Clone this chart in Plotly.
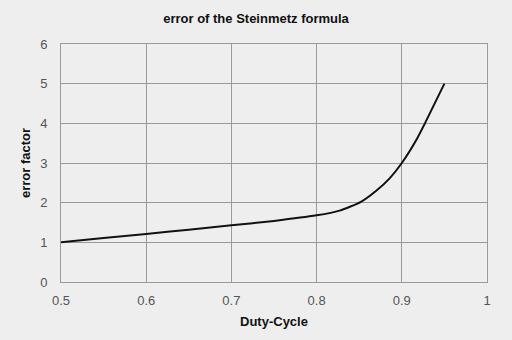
import plotly.graph_objects as go

duty_cycle = [0.5, 0.55, 0.6, 0.65, 0.7, 0.75, 0.8, 0.827, 0.852, 0.87, 0.886, 0.9, 0.918, 0.929, 0.95]
error_factor = [1.0, 1.11, 1.21, 1.32, 1.43, 1.54, 1.68, 1.8, 2.02, 2.3, 2.62, 3.0, 3.62, 4.08, 5.0]

x_ticks = [0.5, 0.6, 0.7, 0.8, 0.9, 1.0]
x_labels = ["0.5", "0.6", "0.7", "0.8", "0.9", "1"]
y_ticks = [0, 1, 2, 3, 4, 5, 6]

bg = "#eeeeee"
grid = "#9a9a9a"
narrow = "Liberation Sans Narrow, Arial Narrow, Liberation Sans, sans-serif"
tickfont = dict(family="Liberation Sans, Arial, sans-serif", size=13, color="#555555")

fig = go.Figure()
fig.add_trace(go.Scatter(
    x=duty_cycle, y=error_factor, mode="lines",
    line=dict(color="#111111", width=2, shape="spline", smoothing=0.6),
    showlegend=False, hoverinfo="skip",
))

fig.update_layout(
    width=512, height=340,
    margin=dict(l=61, r=25, t=44, b=58),
    paper_bgcolor=bg, plot_bgcolor=bg,
    title=dict(text="<b>error of the Steinmetz formula</b>", x=0.5, xanchor="center",
               y=1 - 18 / 340, yanchor="middle",
               font=dict(family=narrow, size=13, color="#111111")),
    xaxis=dict(range=[0.5, 1.0], tickvals=x_ticks, ticktext=x_labels,
               showgrid=True, gridcolor=grid, gridwidth=1,
               showline=True, linecolor=grid, linewidth=1, mirror=True,
               zeroline=False, ticks="", tickfont=tickfont, ticklabelstandoff=6,
               title=dict(text="<b>Duty-Cycle</b>", standoff=10,
                          font=dict(family=narrow, size=13, color="#111111"))),
    yaxis=dict(range=[0, 6], tickvals=y_ticks,
               showgrid=True, gridcolor=grid, gridwidth=1,
               showline=True, linecolor=grid, linewidth=1, mirror=True,
               zeroline=False, ticks="", tickfont=tickfont, ticklabelstandoff=10,
               title=dict(text="<b>error factor</b>", standoff=6,
                          font=dict(family=narrow, size=13, color="#111111"))),
)

fig.write_html("out.html")
